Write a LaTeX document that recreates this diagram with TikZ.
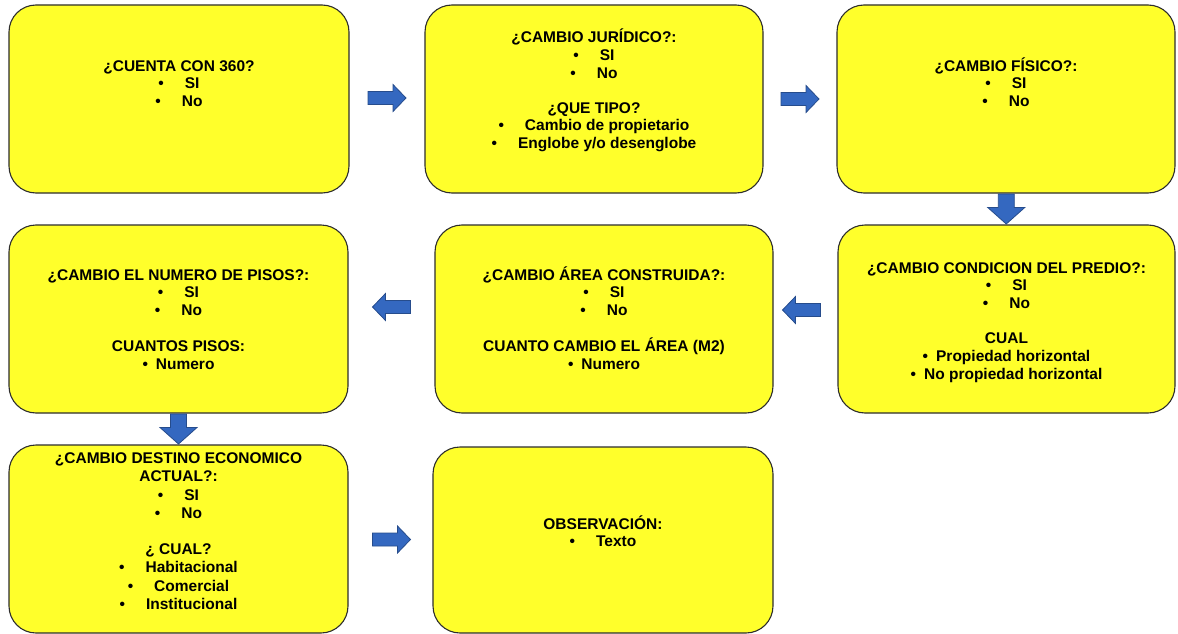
\documentclass[tikz,border=0pt]{standalone}
\usepackage{fontspec}
\setmainfont{Liberation Sans}
\usetikzlibrary{calc}
\definecolor{boxyellow}{RGB}{255,255,43}
\definecolor{boxline}{RGB}{45,45,45}
\definecolor{arrowblue}{RGB}{52,104,192}
\definecolor{arrowline}{RGB}{38,76,140}
\newcommand{\bl}[1]{\textbullet\hspace{21pt}#1}
\newcommand{\bs}[1]{\textbullet\hspace{8pt}#1}
\newcommand{\fl}{\rule{0pt}{14pt}}
\begin{document}
\begin{tikzpicture}[x=1pt,y=-1pt,
  box/.style={draw=boxline, line width=1.1pt, fill=boxyellow, rounded corners=27pt, inner sep=0pt},
  label/.style={anchor=north, inner sep=0pt, align=center, font=\fontsize{15.5}{17.8}\selectfont\bfseries},
  blockarrow/.style={fill=arrowblue, draw=arrowline, line width=0.8pt, line join=miter},
  rarrow/.pic={\path[blockarrow] (-19,-6.5) -- (6,-6.5) -- (6,-13.5) -- (19,0) -- (6,13.5) -- (6,6.5) -- (-19,6.5) -- cycle;},
  larrow/.pic={\path[blockarrow] (19,-6.5) -- (-6,-6.5) -- (-6,-13.5) -- (-19,0) -- (-6,13.5) -- (-6,6.5) -- (19,6.5) -- cycle;},
  darrow/.pic={\path[blockarrow] (-8,-15) -- (8,-15) -- (8,-1.5) -- (18.5,-1.5) -- (0,15) -- (-18.5,-1.5) -- (-8,-1.5) -- cycle;}
]
\useasboundingbox (0,0) rectangle (1178,634);

% boxes
\node[box, minimum width=340pt, minimum height=188pt] (b1) at (179,99) {};
\node[box, minimum width=338pt, minimum height=188pt] (b2) at (594,99) {};
\node[box, minimum width=338pt, minimum height=188pt] (b3) at (1006,99) {};
\node[box, minimum width=337pt, minimum height=188pt] (b6) at (1006.5,319) {};
\node[box, minimum width=338pt, minimum height=188pt] (b5) at (604,319) {};
\node[box, minimum width=339pt, minimum height=188pt] (b4) at (178.5,319) {};
\node[box, minimum width=339pt, minimum height=188pt] (b7) at (178.5,539) {};
\node[box, minimum width=340pt, minimum height=186pt] (b8) at (603,540) {};

% texts
\node[label] (t1) at ($(b1.north)+(0,52.5)$) {\fl¿CUENTA CON 360?\\ \bl{SI}\\ \bl{No}};
\node[label] (t2) at ($(b2.north)+(0,24)$) {\fl¿CAMBIO JURÍDICO?:\\ \bl{SI}\\ \bl{No}\\[17pt] ¿QUE TIPO?\\ \bl{Cambio de propietario}\\ \bl{Englobe y/o desenglobe}};
\node[label] (t3) at ($(b3.north)+(0,52.5)$) {\fl¿CAMBIO FÍSICO?:\\ \bl{SI}\\ \bl{No}};
\node[label] (t6) at ($(b6.north)+(0,34.5)$) {\fl¿CAMBIO CONDICION DEL PREDIO?:\\ \bl{SI}\\ \bl{No}\\[17pt] CUAL\\ \bs{Propiedad horizontal}\\ \bs{No propiedad horizontal}};
\node[label] (t5) at ($(b5.north)+(0,41.5)$) {\fl¿CAMBIO ÁREA CONSTRUIDA?:\\ \bl{SI}\\ \bl{No}\\[18pt] CUANTO CAMBIO EL ÁREA (M2)\\ \bs{Numero}};
\node[label] (t4) at ($(b4.north)+(0,41.5)$) {\fl¿CAMBIO EL NUMERO DE PISOS?:\\ \bl{SI}\\ \bl{No}\\[18pt] CUANTOS PISOS:\\ \bs{Numero}};
\node[label, font=\fontsize{15.5}{18.5}\selectfont\bfseries] (t7) at ($(b7.north)+(0,4.5)$) {\fl¿CAMBIO DESTINO ECONOMICO\\ ACTUAL?:\\ \bl{SI}\\ \bl{No}\\[17pt] ¿ CUAL?\\ \bl{Habitacional}\\ \bl{Comercial}\\ \bl{Institucional}};
\node[label] (t8) at ($(b8.north)+(0,68.5)$) {\fl OBSERVACIÓN:\\ \bl{Texto}};

% block arrows
\pic at ($(b1.east)!0.5!(b2.west)+(0,-1)$) {rarrow};
\pic at ($(b2.east)!0.5!(b3.west)$) {rarrow};
\pic at ($(b3.south)!0.5!(b6.north)$) {darrow};
\pic at ($(b6.west)!0.5!(b5.east)+(-4,-9)$) {larrow};
\pic at ($(b5.west)!0.5!(b4.east)+(0,-12)$) {larrow};
\pic at ($(b4.south)!0.5!(b7.north)$) {darrow};
\pic at ($(b7.east)!0.5!(b8.west)+(1,0)$) {rarrow};
\end{tikzpicture}
\end{document}
